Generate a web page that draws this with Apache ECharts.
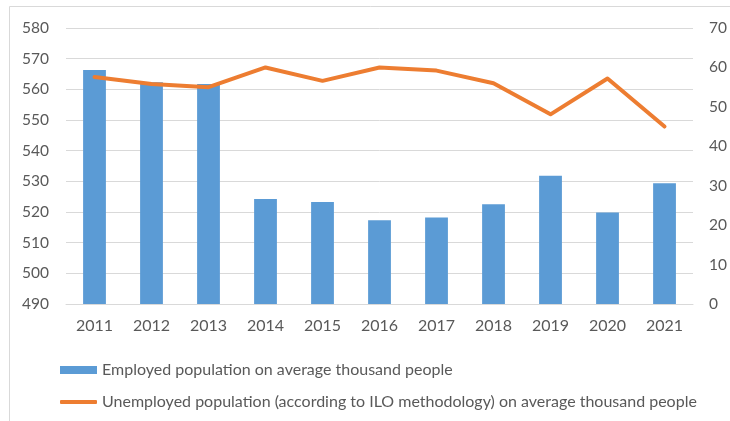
<!DOCTYPE html>
<html>
<head>
<meta charset="utf-8">
<script src="https://cdn.jsdelivr.net/npm/echarts@6/dist/echarts.min.js"></script>
<style>
html,body{margin:0;padding:0;background:#fff;}
#chart{width:730px;height:421px;}
</style>
</head>
<body>
<div id="chart"></div>
<script>
const categories = ['2011','2012','2013','2014','2015','2016','2017','2018','2019','2020','2021'];
const employed = [566.3, 562.3, 561.7, 524.2, 523.3, 517.3, 518.2, 522.5, 531.8, 519.8, 529.4];
const unemployed = [57.6, 55.8, 55.0, 60.0, 56.6, 60.0, 59.2, 56.0, 48.1, 57.2, 45.0];
const leftTicks = [490, 580, 10];
const rightTicks = [0, 70, 10];
const seriesNames = ['Employed population on average thousand people',
  'Unemployed population (according to ILO methodology) on average thousand people'];

const FONT = 'Lato';
const chart = echarts.init(document.getElementById('chart'));
chart.setOption({
  animation: false,
  backgroundColor: '#fff',
  textStyle: {fontFamily: FONT},
  graphic: [{
    type: 'rect', shape: {x: 9.5, y: 6.5, width: 800, height: 600},
    style: {fill: 'none', stroke: '#d9d9d9', lineWidth: 1}, silent: true
  }],
  grid: {left: 66, right: 32, top: 28, bottom: 117, containLabel: false},
  legend: [{
    orient: 'vertical', left: 55, top: 357, itemWidth: 37, itemHeight: 8, itemGap: 10,
    icon: 'rect', data: [seriesNames[0]],
    textStyle: {fontFamily: FONT, fontSize: 16, color: '#595959'}
  }, {
    orient: 'vertical', left: 55, top: 389, itemWidth: 37, itemHeight: 4, itemGap: 10,
    icon: 'roundRect', data: [seriesNames[1]],
    textStyle: {fontFamily: FONT, fontSize: 16, color: '#595959'}
  }],
  xAxis: {
    type: 'category', data: categories,
    axisLine: {show: true, lineStyle: {color: '#d9d9d9', width: 1}},
    axisTick: {show: false},
    axisLabel: {color: '#595959', fontSize: 16, fontFamily: FONT, margin: 14}
  },
  yAxis: [{
    type: 'value', min: leftTicks[0], max: leftTicks[1], interval: leftTicks[2],
    axisLine: {show: false}, axisTick: {show: false},
    axisLabel: {color: '#595959', fontSize: 15.5, fontFamily: FONT, margin: 17},
    splitLine: {lineStyle: {color: '#d9d9d9', width: 1}}
  }, {
    type: 'value', min: rightTicks[0], max: rightTicks[1], interval: rightTicks[2],
    position: 'right',
    axisLine: {show: false}, axisTick: {show: false},
    axisLabel: {color: '#595959', fontSize: 15.5, fontFamily: FONT, margin: 16},
    splitLine: {show: false}
  }],
  series: [{
    name: seriesNames[0], type: 'bar', data: employed, yAxisIndex: 0,
    barWidth: '40%', itemStyle: {color: '#5B9BD5'}
  }, {
    name: seriesNames[1], type: 'line', data: unemployed, yAxisIndex: 1,
    symbol: 'none', showSymbol: false,
    lineStyle: {color: '#ED7D31', width: 4, cap: 'round', join: 'round'},
    itemStyle: {color: '#ED7D31'}
  }]
});
</script>
</body>
</html>
